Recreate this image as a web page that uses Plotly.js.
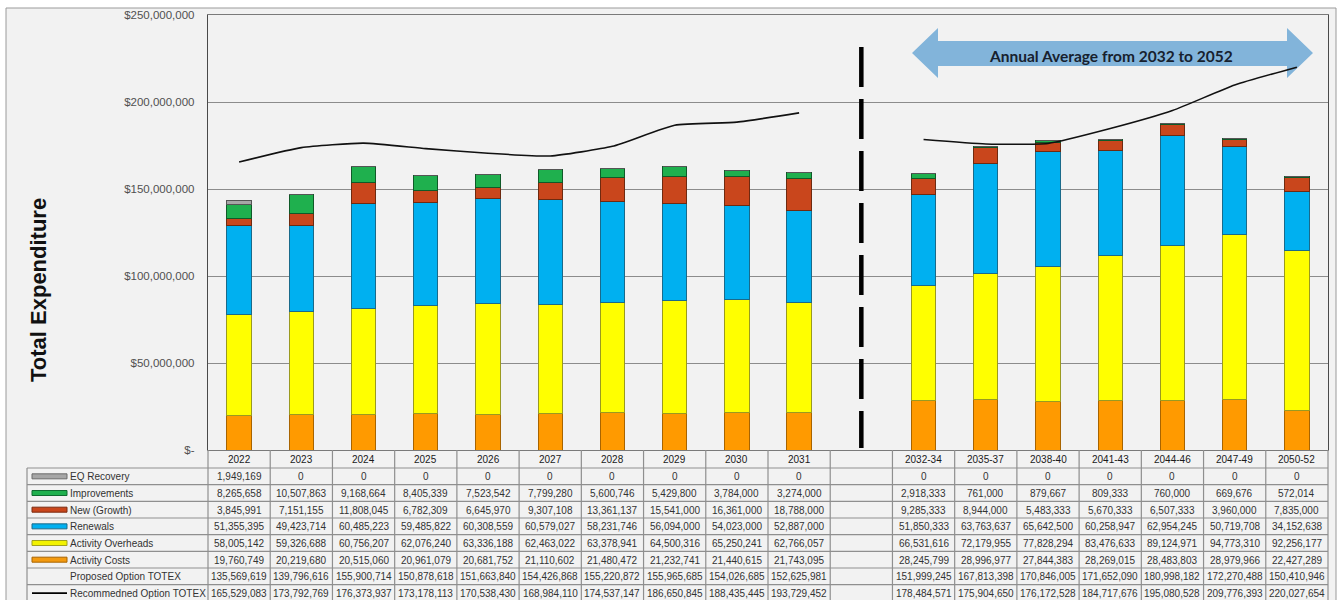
<!DOCTYPE html>
<html><head><meta charset="utf-8">
<script src="https://cdn.plot.ly/plotly-3.0.1.min.js"></script>
<style>html,body{margin:0;padding:0;background:#fff}#chart{width:1341px;height:600px}</style>
</head><body><div id="chart"></div>
<script>
// ---------- data ----------
const periods = ['2022','2023','2024','2025','2026','2027','2028','2029','2030','2031',
                 '2032-34','2035-37','2038-40','2041-43','2044-46','2047-49','2050-52'];
const GAP = ' ';
const eqRecovery = [1949169,0,0,0,0,0,0,0,0,0, 0,0,0,0,0,0,0];
const improvements = [8265658,10507863,9168664,8405339,7523542,7799280,5600746,5429800,3784000,3274000, 2918333,761000,879667,809333,760000,669676,572014];
const newGrowth = [3845991,7151155,11808045,6782309,6645970,9307108,13361137,15541000,16361000,18788000, 9285333,8944000,5483333,5670333,6507333,3960000,7835000];
const renewals = [51355395,49423714,60485223,59485822,60308559,60579027,58231746,56094000,54023000,52887000, 51850333,63763637,65642500,60258947,62954245,50719708,34152638];
const activityOverheads = [58005142,59326688,60756207,62076240,63336188,62463022,63378941,64500316,65250241,62766057, 66531616,72179955,77828294,83476633,89124971,94773310,92256177];
const activityCosts = [19760749,20219680,20515060,20961079,20681752,21110602,21480472,21232741,21440615,21743095, 28245799,28996977,27844383,28269015,28483803,28979966,22427289];
const proposedTotex = [135569619,139796616,155900714,150878618,151663840,154426868,155220872,155965685,154026685,152625981, 151999245,167813398,170846005,171652090,180998182,172270488,150410946];
const recommendedTotex = [165529083,173792769,176373937,173178113,170538430,168984110,174537147,186650845,188435445,193729452, 178484571,175904650,176172528,184717676,195080528,209776393,220027654];
const rowLabels = ['EQ Recovery','Improvements','New (Growth)','Renewals','Activity Overheads','Activity Costs','Proposed Option TOTEX','Recommedned Option TOTEX'];
const yTickVals = [0, 50000000, 100000000, 150000000, 200000000, 250000000];
const yTickText = ['$-', '$50,000,000', '$100,000,000', '$150,000,000', '$200,000,000', '$250,000,000'];
const yAxisTitle = 'Total Expenditure';
const arrowLabel = 'Annual Average from 2032 to 2052';

// ---------- layout constants ----------
const W = 1341, H = 600;
const PX0 = 208, PX1 = 1328, PY0 = 15, PY1 = 450;
const TX0 = 27, ROW0 = 468, CELL_H = 16.67;
const fx = p => p / W, fy = p => 1 - p / H;
const TXT_FONT = 'Liberation Sans, Arial, sans-serif';
const TBL_SIZE = 10;

const xCats = periods.slice(0, 10).concat([GAP], periods.slice(10));
const gapIdx = xCats.indexOf(GAP);
const colW = (PX1 - PX0) / xCats.length;

const series = [
  {name:'Activity Costs', y:activityCosts, color:'#ff9a00', line:'#a86400'},
  {name:'Activity Overheads', y:activityOverheads, color:'#ffff00', line:'#9a9a20'},
  {name:'Renewals', y:renewals, color:'#00b0f0', line:'#1a6a8a'},
  {name:'New (Growth)', y:newGrowth, color:'#c9461c', line:'#6e2a10'},
  {name:'Improvements', y:improvements, color:'#1fb04e', line:'#0f5a28'},
  {name:'EQ Recovery', y:eqRecovery, color:'#a6a6a6', line:'#555555'}
];

const traces = series.map(s => ({
  type:'bar', name:s.name, x:periods, y:s.y,
  marker:{color:s.color, line:{color:s.line, width:1}},
  showlegend:false
}));

const lineY = xCats.map(c => c === GAP ? null : recommendedTotex[periods.indexOf(c)]);
traces.push({
  type:'scatter', mode:'lines', name:'Recommedned Option TOTEX',
  x:xCats, y:lineY, connectgaps:false,
  line:{color:'#111', width:1.6, shape:'spline', smoothing:0.5},
  showlegend:false
});

// ---------- decorations ----------
const shapes = [];
const annotations = [];
// outer frame
shapes.push({type:'rect', xref:'paper', yref:'paper', layer:'below',
  x0:fx(6), x1:fx(1336), y0:fy(610), y1:fy(8),
  fillcolor:'#f2f2f2', line:{color:'#9a9a9a', width:1}});
// dashed separator
shapes.push({type:'line', xref:'x', yref:'paper', x0:gapIdx, x1:gapIdx,
  y0:fy(47), y1:fy(448), line:{color:'#000', width:4.5, dash:'40px,12px'}});
// double arrow
const ap = [[912,53],[938,28],[938,41],[1287,41],[1287,28],[1313,53],[1287,78],[1287,66],[938,66],[938,78]];
shapes.push({type:'path', xref:'paper', yref:'paper', layer:'below',
  path:'M' + ap.map(p => fx(p[0]) + ',' + fy(p[1])).join(' L') + ' Z',
  fillcolor:'#82b4da', line:{width:0}});

// ---------- data table (grid + text) ----------
const gridCol = '#8f8f8f';
for (let i = 0; i <= rowLabels.length; i++) {
  const y = ROW0 + i * CELL_H;
  shapes.push({type:'line', xref:'paper', yref:'paper', x0:fx(TX0), x1:fx(PX1), y0:fy(y), y1:fy(y),
    line:{color:gridCol, width:1.2}});
}
shapes.push({type:'line', xref:'paper', yref:'paper', x0:fx(TX0), x1:fx(TX0), y0:fy(ROW0), y1:0,
  line:{color:gridCol, width:1.2}});
for (let k = 0; k <= xCats.length; k++) {
  const x = PX0 + k * colW;
  shapes.push({type:'line', xref:'paper', yref:'paper', x0:fx(x), x1:fx(x), y0:fy(PY1), y1:0,
    line:{color:gridCol, width:1.2}});
}
// header labels
xCats.forEach((c, k) => {
  if (c === GAP) return;
  annotations.push({text:c, xref:'x', yref:'paper', x:k, y:fy((PY1 + ROW0) / 2 + 0.5),
    xanchor:'center', yanchor:'middle', showarrow:false,
    font:{family:TXT_FONT, size:TBL_SIZE, color:'#1a1a1a'}});
});
// value cells
const fmt = v => String(v).replace(/\B(?=(\d{3})+(?!\d))/g, ',');
const allRows = [eqRecovery, improvements, newGrowth, renewals, activityOverheads, activityCosts, proposedTotex, recommendedTotex];
allRows.forEach((row, r) => {
  const cy = ROW0 + r * CELL_H + CELL_H / 2 + 0.5;
  annotations.push({text:rowLabels[r], xref:'paper', yref:'paper', x:fx(68), y:fy(cy),
    xanchor:'left', yanchor:'middle', showarrow:false,
    font:{family:TXT_FONT, size:TBL_SIZE, color:'#333'}});
  periods.forEach((p, i) => {
    annotations.push({text:fmt(row[i]), xref:'x', yref:'paper', x:xCats.indexOf(p), y:fy(cy),
      xanchor:'center', yanchor:'middle', showarrow:false,
      font:{family:TXT_FONT, size:TBL_SIZE, color:'#333'}});
  });
});
// legend keys
const keyColors = ['#a6a6a6','#1fb04e','#c9461c','#00b0f0','#f2f200','#f39a10', null, 'line'];
const keyLines = ['#6a6a6a','#0f6a30','#7a2a10','#1a6a8a','#a0a020','#a86400'];
keyColors.forEach((c, i) => {
  if (!c) return;
  const cy = ROW0 + i * CELL_H + CELL_H / 2;
  if (c === 'line') {
    shapes.push({type:'line', xref:'paper', yref:'paper', x0:fx(32), x1:fx(67), y0:fy(cy), y1:fy(cy),
      line:{color:'#000', width:1.8}});
  } else {
    shapes.push({type:'rect', xref:'paper', yref:'paper', x0:fx(32), x1:fx(67), y0:fy(cy + 2.5), y1:fy(cy - 2.5),
      fillcolor:c, line:{color:keyLines[i], width:1}});
  }
});

annotations.push(
  {text:'<b>' + yAxisTitle + '</b>', xref:'paper', yref:'paper', x:fx(38), y:fy(290),
   xanchor:'center', yanchor:'middle',
   textangle:-90, showarrow:false, font:{family:TXT_FONT, size:22, color:'#111'}},
  {text:'<b>' + arrowLabel + '</b>', xref:'paper', yref:'paper', x:fx(1111), y:fy(56),
   xanchor:'center', yanchor:'middle',
   showarrow:false, font:{family:'Lato, Open Sans, sans-serif', size:15.5, color:'#17212e'}}
);

const layout = {
  width:W, height:H, margin:{l:0, r:0, t:0, b:0},
  paper_bgcolor:'#ffffff', plot_bgcolor:'#d9d9d9',
  barmode:'stack', bargap:0.61, showlegend:false,
  font:{family:TXT_FONT, color:'#333'},
  xaxis:{domain:[fx(PX0), fx(PX1)], type:'category', categoryorder:'array', categoryarray:xCats,
         range:[-0.5, xCats.length - 0.5], showticklabels:false, showgrid:false, zeroline:false,
         showline:true, mirror:true, linecolor:'#7a7a7a', linewidth:1, automargin:false, fixedrange:true},
  yaxis:{domain:[fy(PY1), fy(PY0)], range:[0, 250000000], tickmode:'array',
         tickvals:yTickVals, ticktext:yTickText, ticks:'', ticklabelstandoff:10,
         tickfont:{family:TXT_FONT, size:11.5, color:'#505050'},
         showgrid:true, gridcolor:'#8c8c8c', gridwidth:1, zeroline:false,
         showline:true, mirror:true, linecolor:'#4a4a4a', linewidth:1.2, automargin:false, fixedrange:true},
  shapes:shapes, annotations:annotations
};

Plotly.newPlot('chart', traces, layout, {displayModeBar:false, staticPlot:true});
</script>
</body></html>
